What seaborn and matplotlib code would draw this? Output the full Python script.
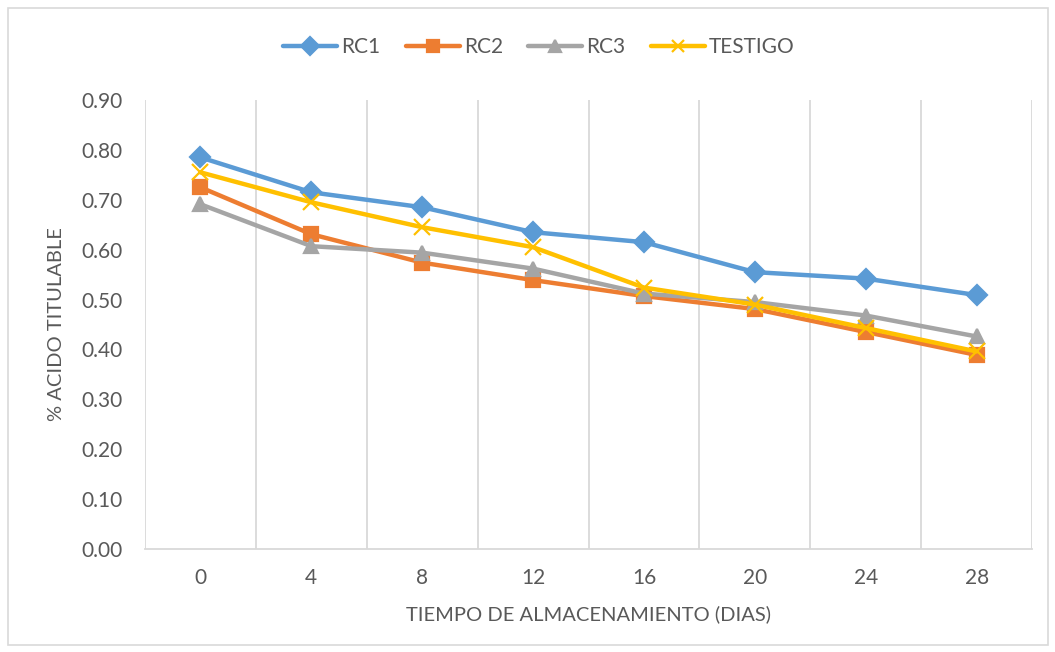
import matplotlib
matplotlib.use("Agg")
import matplotlib.pyplot as plt
import seaborn as sns
import pandas as pd
from matplotlib.patches import Rectangle
from matplotlib.ticker import FixedLocator

days = [0, 4, 8, 12, 16, 20, 24, 28]
rc1 = [0.785, 0.715, 0.685, 0.635, 0.615, 0.555, 0.542, 0.509]
rc2 = [0.725, 0.631, 0.574, 0.539, 0.507, 0.481, 0.435, 0.389]
rc3 = [0.691, 0.607, 0.594, 0.562, 0.512, 0.495, 0.468, 0.426]
testigo = [0.755, 0.695, 0.645, 0.605, 0.524, 0.490, 0.443, 0.396]
series_names = ["RC1", "RC2", "RC3", "TESTIGO"]

colors = {"RC1": "#5B9BD5", "RC2": "#ED7D31", "RC3": "#A5A5A5", "TESTIGO": "#FFC000"}
markers = {"RC1": "D", "RC2": "s", "RC3": "^", "TESTIGO": "x"}
msizes = {"RC1": 10, "RC2": 10, "RC3": 10, "TESTIGO": 11}

sns.set_theme(style="white")
plt.rcParams["font.family"] = ["Lato", "DejaVu Sans"]

fig = plt.figure(figsize=(10.55, 6.52), dpi=100)
ax = fig.add_axes([145/1055, 1-549/652, (1032-145)/1055, (549-100)/652])

for name, vals in zip(series_names, [rc1, rc2, rc3, testigo]):
    d = pd.DataFrame({"dia": days, "valor": vals})
    sns.lineplot(data=d, x="dia", y="valor", ax=ax, color=colors[name],
                 marker=markers[name], markersize=msizes[name],
                 markeredgewidth=1.6, markeredgecolor=colors[name],
                 markerfacecolor=colors[name], linewidth=3.2, label=name,
                 legend=False)

ax.set_xlim(-2, 30)
ax.set_ylim(0, 0.90)
ax.set_yticks([i * 0.1 for i in range(10)])
ax.set_yticklabels([f"{i*0.1:.2f}" for i in range(10)])
ax.set_xticks(days)
ax.set_xticklabels([str(d) for d in days])
ax.xaxis.set_minor_locator(FixedLocator([-2 + 4*i for i in range(9)]))
ax.grid(which="minor", axis="x", color="#D9D9D9", linewidth=1.3)
ax.grid(which="major", axis="both", visible=False)
ax.set_axisbelow(True)
ax.tick_params(which="both", length=0)
ax.tick_params(axis="both", labelsize=15, labelcolor="#595959")
ax.tick_params(axis="x", pad=14)
ax.tick_params(axis="y", pad=16)
for s in ["top", "right", "left"]:
    ax.spines[s].set_visible(False)
ax.spines["bottom"].set_color("#D9D9D9")
ax.spines["bottom"].set_linewidth(1.3)

ax.set_xlabel("TIEMPO DE ALMACENAMIENTO (DIAS)", fontsize=14.5, color="#595959", labelpad=12)
ax.set_ylabel("% ACIDO TITULABLE", fontsize=14.5, color="#595959", labelpad=12)

handles = [plt.Line2D([], [], color=colors[n], marker=markers[n], linewidth=3.2,
                      markersize=9, markeredgewidth=1.6,
                      markerfacecolor=colors[n], markeredgecolor=colors[n])
           for n in series_names]
fig.legend(handles, series_names, loc="center", bbox_to_anchor=(539/1055, 1-47/652),
           ncol=4, frameon=False, fontsize=15, labelcolor="#595959",
           handlelength=2.6, columnspacing=1.2, handletextpad=0.2)

fig.patches.append(Rectangle((8/1055, 1-645/652), 1040/1055, 637/652,
                             transform=fig.transFigure, fill=False,
                             edgecolor="#D9D9D9", linewidth=1.2))

fig.savefig("out.png", dpi=100)
